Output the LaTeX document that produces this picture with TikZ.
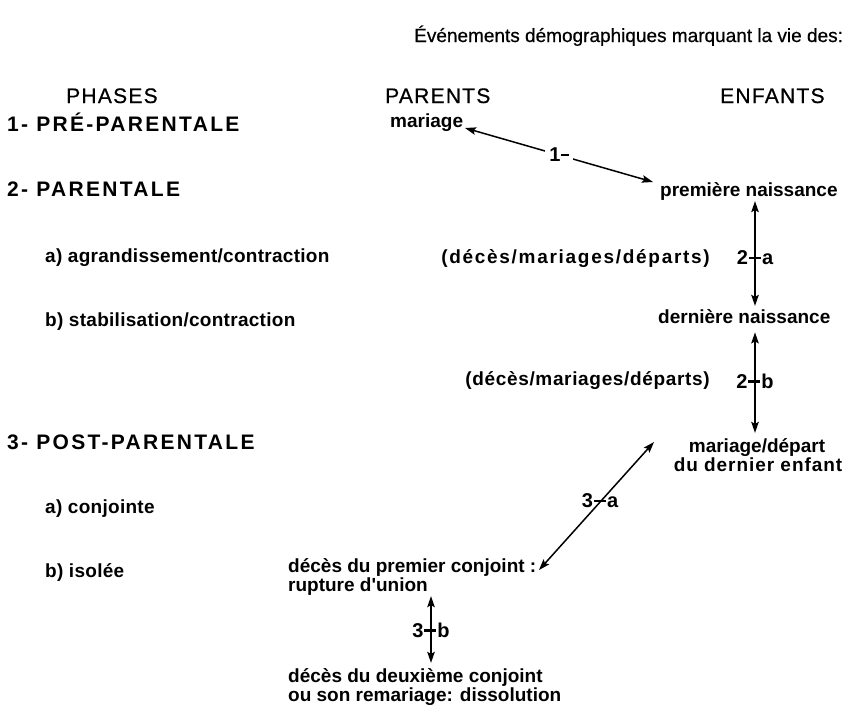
\documentclass[tikz,border=0pt]{standalone}
\usepackage{fontspec}
\setmainfont{Liberation Sans}
\newfontfamily\titlefont[FakeBold=0.6]{Liberation Sans}
\newfontfamily\headfont[LetterSpace=6,FakeBold=0.6]{Liberation Sans}
\newfontfamily\phasefont[LetterSpace=11]{Liberation Sans}
\newfontfamily\evfont{Liberation Sans}
\newcommand\lnk[2]{#1\hspace{1pt}\rule[5.5pt]{12pt}{2.2pt}\hspace{1pt}#2}
\usetikzlibrary{arrows.meta}
\begin{document}
\begin{tikzpicture}[x=1pt,y=-1pt,
  title/.style={anchor=base west,inner sep=0pt,font=\titlefont\fontsize{19}{21}\selectfont},
  head/.style={anchor=base west,inner sep=0pt,font=\headfont\fontsize{21}{23}\selectfont},
  phase/.style={anchor=base west,inner sep=0pt,font=\phasefont\bfseries\fontsize{21}{23}\selectfont},
  sub/.style={anchor=base west,inner sep=0pt,font=\evfont\bfseries\fontsize{19}{21}\selectfont\addfontfeature{LetterSpace=1.5}},
  ev/.style={anchor=base west,inner sep=0pt,font=\evfont\bfseries\fontsize{19}{21}\selectfont},
  evls/.style={anchor=base west,inner sep=0pt,font=\evfont\bfseries\fontsize{19}{21}\selectfont\addfontfeature{LetterSpace=#1}},
  lab/.style={inner sep=0pt,font=\evfont\bfseries\fontsize{20}{22}\selectfont},
  link/.style={line width=1.5pt,{Stealth[length=11pt,width=7.5pt,inset=2pt]}-{Stealth[length=11pt,width=7.5pt,inset=2pt]}}
]
\useasboundingbox (0,0) rectangle (852,705);
\fill[white] (0,0) rectangle (852,705);

% headings
\node[title] (title) at (414,42) {Événements démographiques marquant la vie des:};
\node[head] (phases) at (66,103) {PHASES};
\node[head] (parents) at (385,103) {PARENTS};
\node[head] (enfants) at (720,103) {ENFANTS};

% phases column
\node[phase] (p1) at (7,131) {1- PRÉ-PARENTALE};
\node[phase] (p2) at (7,196) {2- PARENTALE};
\node[sub] (s2a) at (45,262) {a) agrandissement/contraction};
\node[sub] (s2b) at (45,326) {b) stabilisation/contraction};
\node[phase] (p3) at (7,449) {3- POST-PARENTALE};
\node[sub] (s3a) at (45,513) {a) conjointe};
\node[sub] (s3b) at (45,577) {b) isolée};

% events
\node[ev] (mariage) at (390,127) {mariage};
\node[ev] (premiere) at (660,196) {première naissance};
\node[evls=9,anchor=base east] (dmd1) at (710,263) {(décès/mariages/départs)};
\node[ev] (derniere) at (658,323) {dernière naissance};
\node[evls=3.5,anchor=base east] (dmd2) at (710,385) {(décès/mariages/départs)};
\node[ev,anchor=base] (mdep1) at (757,452) {mariage/départ};
\node[evls=5,anchor=base] (mdep2) at (758,471) {du dernier enfant};
\node[ev] (dpc1) at (288,572) {décès du premier conjoint :};
\node[ev] (dpc2) at (288,591) {rupture d'union};
\node[ev] (ddc1) at (288,682) {décès du deuxième conjoint};
\node[ev] (ddc2) at (288,701) {ou son remariage: dissolution};

% labels on connectors
\node[lab] (l2a) at (755,258) {\lnk{2}{a}};
\node[lab] (l2b) at (755,381) {\lnk{2}{b}};
\node[lab] (l3a) at (600,501) {\lnk{3}{a}};
\node[lab] (l3b) at (431,630) {\lnk{3}{b}};

% connector end points
\coordinate (m1) at (465,128);
\coordinate (n1) at (653,182);
\coordinate (a3top) at (654,442);
\coordinate (a3bot) at (539,570);

% connectors
\draw[link] (m1) -- node[lab,fill=white,inner sep=4pt,pos=0.5] (l1) {1\rule[5.5pt]{8pt}{2pt}} (n1);
\draw[link] ([yshift=-1pt]premiere.south -| l2a) -- ([yshift=3pt]derniere.north -| l2a);
\draw[link] ([yshift=-9pt]derniere.south -| l2b) -- ([yshift=5pt]mdep1.north -| l2b);
\draw[link] (a3top) -- (a3bot);
\draw[link] ([yshift=-1pt]dpc2.south -| l3b) -- ([yshift=5pt]ddc1.north -| l3b);
\end{tikzpicture}
\end{document}
